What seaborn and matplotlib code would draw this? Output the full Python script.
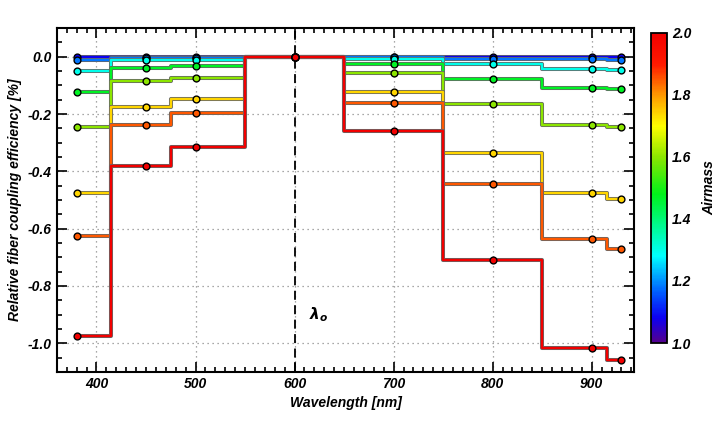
import numpy as np
import pandas as pd
import matplotlib
matplotlib.use("Agg")
import matplotlib.pyplot as plt
import matplotlib.patheffects as pe
from matplotlib.colors import LinearSegmentedColormap, Normalize
from matplotlib.ticker import MultipleLocator
import seaborn as sns

# wavelengths where the coupling efficiency was evaluated
wavelength = [380, 450, 500, 600, 700, 800, 900, 930]

# one curve per airmass
airmass = [1.08, 1.18, 1.30, 1.47, 1.60, 1.74, 1.85, 2.00]
efficiency = [
    [-0.002, 0.000, 0.000, 0.0, 0.000, -0.001, -0.001, -0.001],
    [-0.013, -0.004, -0.003, 0.0, -0.002, -0.007, -0.009, -0.010],
    [-0.050, -0.012, -0.010, 0.0, -0.009, -0.027, -0.042, -0.045],
    [-0.122, -0.039, -0.033, 0.0, -0.027, -0.077, -0.108, -0.112],
    [-0.245, -0.085, -0.073, 0.0, -0.057, -0.166, -0.239, -0.244],
    [-0.474, -0.175, -0.147, 0.0, -0.122, -0.337, -0.474, -0.495],
    [-0.625, -0.238, -0.196, 0.0, -0.160, -0.445, -0.635, -0.670],
    [-0.975, -0.380, -0.316, 0.0, -0.260, -0.710, -1.015, -1.060],
]

rows = []
for am, eff in zip(airmass, efficiency):
    for w, e in zip(wavelength, eff):
        rows.append({"wavelength": w, "efficiency": e, "airmass": am})
df = pd.DataFrame(rows)

# IDL-like rainbow
cmap = LinearSegmentedColormap.from_list("airmass", [
    (0.00, (0.33, 0.00, 0.55)),
    (0.08, (0.05, 0.00, 0.95)),
    (0.16, (0.00, 0.35, 1.00)),
    (0.28, (0.00, 1.00, 1.00)),
    (0.48, (0.00, 0.95, 0.10)),
    (0.60, (0.55, 0.90, 0.00)),
    (0.70, (1.00, 1.00, 0.00)),
    (0.80, (1.00, 0.60, 0.00)),
    (0.90, (1.00, 0.10, 0.00)),
    (1.00, (0.95, 0.00, 0.00)),
])
norm = Normalize(1.0, 2.0)

sns.set_style("ticks")
plt.rcParams["font.family"] = ["Liberation Sans", "DejaVu Sans"]
plt.rcParams["font.weight"] = "bold"
plt.rcParams["font.style"] = "italic"
plt.rcParams["mathtext.fontset"] = "dejavusans"
for k in ["text.color", "axes.labelcolor", "xtick.color", "ytick.color", "axes.edgecolor"]:
    plt.rcParams[k] = "black"

fig = plt.figure(figsize=(7.2, 4.32), dpi=100)
ax = fig.add_axes([0.079, 0.139, 0.802, 0.796])

for am in airmass:
    sub = df[df["airmass"] == am]
    col = cmap(norm(am))
    sns.lineplot(data=sub, x="wavelength", y="efficiency", ax=ax, color=col,
                 drawstyle="steps-mid", lw=1.7, zorder=3,
                 path_effects=[pe.Stroke(linewidth=2.9, foreground="0.4"), pe.Normal()])
    sns.scatterplot(data=sub, x="wavelength", y="efficiency", ax=ax, color=col,
                    s=24, edgecolor="black", linewidth=1.0, zorder=4)

ax.axvline(600, color="black", ls=(0, (5, 3)), lw=1.3, zorder=2)
ax.text(615, -0.9, r"$\lambda_o$", fontsize=11, ha="left", va="center")

ax.set_xlim(360, 943)
ax.set_ylim(-1.1, 0.1)
ax.xaxis.set_major_locator(MultipleLocator(100))
ax.xaxis.set_minor_locator(MultipleLocator(10))
ax.yaxis.set_major_locator(MultipleLocator(0.2))
ax.yaxis.set_minor_locator(MultipleLocator(0.05))
ax.yaxis.set_major_formatter(matplotlib.ticker.FormatStrFormatter("%.1f"))
ax.grid(True, which="major", ls=(0, (1, 3)), color="0.55", lw=0.9)
ax.tick_params(which="both", direction="in", top=True, right=True, labelsize=10, width=1.2)
ax.tick_params(which="major", length=7)
ax.tick_params(which="minor", length=3.5)
for sp in ax.spines.values():
    sp.set_linewidth(1.5)
ax.set_xlabel("Wavelength [nm]", fontsize=10, fontweight="bold", fontstyle="italic")
ax.set_ylabel("Relative fiber coupling efficiency [%]", fontsize=10,
              fontweight="bold", fontstyle="italic")

cax = fig.add_axes([0.904, 0.206, 0.022, 0.718])
sm = plt.cm.ScalarMappable(norm=norm, cmap=cmap)
cb = fig.colorbar(sm, cax=cax)
cb.set_ticks([1.0, 1.2, 1.4, 1.6, 1.8, 2.0])
cb.ax.tick_params(length=0, labelsize=10, pad=4)
cb.outline.set_linewidth(1.3)
cb.set_label("Airmass", fontsize=10, fontweight="bold", fontstyle="italic", labelpad=8)

fig.savefig("out.png", dpi=100)
